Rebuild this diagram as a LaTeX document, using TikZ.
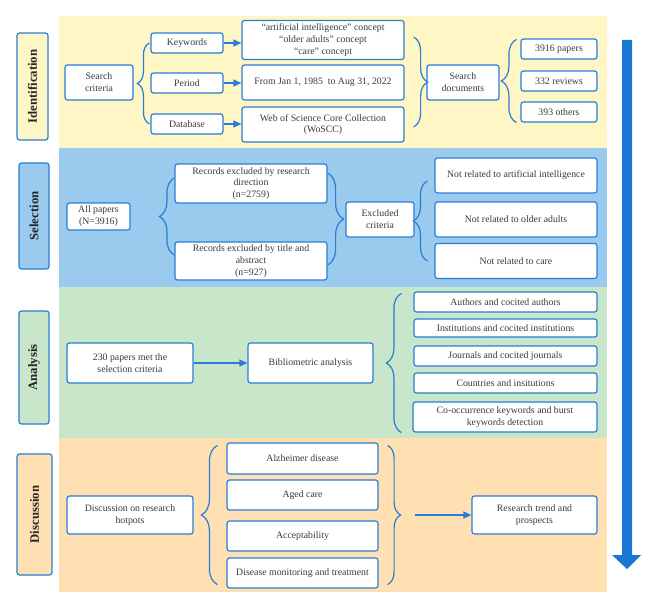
\documentclass[tikz,border=0pt]{standalone}
\usepackage{fontspec}
\setmainfont{Liberation Serif}
\usetikzlibrary{arrows.meta,decorations.pathreplacing,calc}
\definecolor{bl}{HTML}{2A7DD6}
\definecolor{bigarrow}{HTML}{1976D2}
\definecolor{txt}{HTML}{3A3A3A}
\definecolor{bandY}{HTML}{FFF6C6}
\definecolor{bandB}{HTML}{9ACAEE}
\definecolor{bandG}{HTML}{C8E6C9}
\definecolor{bandO}{HTML}{FFE0B2}
\tikzset{
  box/.style={draw=bl, line width=1.2pt, rounded corners=2.5pt, fill=white, align=center,
    font=\fontsize{9.8}{11.8}\selectfont, text=txt, inner sep=1pt},
  lab/.style={draw=bl, line width=1.2pt, rounded corners=2.5pt, rotate=90, inner sep=1pt,
    font=\bfseries\fontsize{12.8}{13}\selectfont, text=black!85},
  brc/.style={draw=bl, line width=1.2pt, decorate, decoration={brace, amplitude=#1}},
  arr/.style={draw=bl, line width=1.2pt, -{Triangle[length=8pt,width=7pt]}},
}
\newcommand{\bx}[6]{\node[box, minimum width=#4pt, minimum height=#5pt] (#1) at (#2,#3) {#6};}
\begin{document}
\begin{tikzpicture}[x=1pt,y=-1pt]
\useasboundingbox (0,0) rectangle (656,607);
% bands
\fill[bandY] (59,16) rectangle (607,148);
\fill[bandB] (59,148) rectangle (607,287);
\fill[bandG] (59,287) rectangle (607,438);
\fill[bandO] (59,438) rectangle (607,592);
% big arrow
\fill[bigarrow] (622,40) -- (632,40) -- (632,555) -- (641,555) -- (627,569) -- (612,555) -- (622,555) -- cycle;
% stage labels
\node[lab, fill=bandY, minimum width=107pt, minimum height=31pt] (lid) at (32.5,86.5) {Identification};
\node[lab, fill=bandB, minimum width=106pt, minimum height=30pt] (lsel) at (34,216) {Selection};
\node[lab, fill=bandG, minimum width=113pt, minimum height=30pt] (lan) at (34,367.5) {Analysis};
\node[lab, fill=bandO, minimum width=121pt, minimum height=35pt] (ldi) at (34.5,514.5) {Discussion};
% Identification
\bx{sc}{99}{82.5}{68}{35}{Search\\criteria}
\bx{kw}{187}{43}{72}{20}{Keywords}
\bx{per}{187}{83}{72}{20}{Period}
\bx{db}{187}{124}{72}{20}{Database}
\bx{kwc}{323}{40}{162}{39}{“artificial intelligence” concept\\“older adults” concept\\“care” concept}
\bx{perc}{323}{82.5}{162}{35}{From Jan 1, 1985\ \ to Aug 31, 2022}
\bx{dbc}{323}{124.5}{162}{35}{Web of Science Core Collection\\(WoSCC)}
\bx{sd}{463}{82.5}{72}{35}{Search\\documents}
\bx{p1}{559}{49}{76}{20}{3916 papers}
\bx{p2}{559}{81}{76}{20}{332 reviews}
\bx{p3}{559}{112}{76}{20}{393 others}
\draw[brc=12pt] ($(db.west)+(-1,0)$) -- ($(kw.west)+(-1,0)$);
\draw[arr] (kw.east) -- (kw.east -| kwc.west);
\draw[arr] (per.east) -- (per.east -| perc.west);
\draw[arr] (db.east) -- (db.east -| dbc.west);
\draw[brc=14pt] ($(kwc.east)+(9,-3)$) -- ($(dbc.east)+(9,2.5)$);
\draw[brc=15pt] ($(p3.south west)+(-4,0)$) -- ($(p1.north west)+(-4,1)$);
% Selection
\bx{ap}{98.5}{216.5}{63}{27}{All papers\\(N=3916)}
\bx{r1}{251}{183.5}{152}{39}{Records excluded by research\\direction\\(n=2759)}
\bx{r2}{251}{261}{152}{38}{Records excluded by title and\\abstract\\(n=927)}
\bx{ec}{380}{219.5}{68}{35}{Excluded\\criteria}
\bx{n1}{516}{175.5}{162}{35}{Not related to artificial intelligence}
\bx{n2}{516}{219.5}{162}{35}{Not related to older adults}
\bx{n3}{516}{261}{162}{35}{Not related to care}
\draw[brc=15pt] ($(r2.west)+(0,-6)$) -- ($(r1.west)+(0,-5.5)$);
\draw[brc=16pt] ($(r1.east)+(0,-10.5)$) -- ($(r2.east)+(0,4)$);
\draw[brc=14pt] ($(n3.west)+(-7,0)$) -- ($(n1.west)+(-7,5.5)$);
% Analysis
\bx{pm}{130}{363}{126}{40}{230 papers met the\\selection criteria}
\bx{ba}{310.5}{363}{125}{40}{Bibliometric analysis}
\bx{a1}{505.5}{302}{183}{20}{Authors and cocited authors}
\bx{a2}{505.5}{328}{183}{18}{Institutions and cocited institutions}
\bx{a3}{505.5}{356}{183}{20}{Journals and cocited journals}
\bx{a4}{505.5}{383}{183}{20}{Countries and insitutions}
\bx{a5}{505}{417}{184}{30}{Co-occurrence keywords and burst\\keywords detection}
\draw[arr] (pm.east) -- (ba.west);
\draw[brc=15pt] ($(a5.south west)+(-11,0)$) -- ($(a1.north west)+(-12,2)$);
% Discussion
\bx{dh}{130}{515}{126}{38}{Discussion on research\\hotpots}
\bx{d1}{302.5}{458.5}{151}{31}{Alzheimer disease}
\bx{d2}{302.5}{495}{151}{30}{Aged care}
\bx{d3}{302.5}{536}{151}{30}{Acceptability}
\bx{d4}{302.5}{573}{151}{30}{Disease monitoring and treatment}
\bx{rt}{534.5}{515}{125}{38}{Research trend and\\prospects}
\draw[brc=16pt] ($(d4.south west)+(-9,-4)$) -- ($(d1.north west)+(-9,3)$);
\draw[brc=13pt] ($(d1.north east)+(9,3)$) -- ($(d4.south east)+(9,-4)$);
\coordinate (dstart) at ($(d2.east |- rt.west)+(36,0)$);
\draw[arr] (dstart) -- (rt.west);
\end{tikzpicture}
\end{document}
